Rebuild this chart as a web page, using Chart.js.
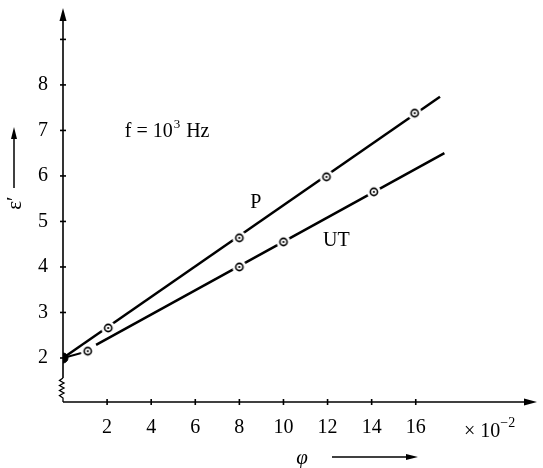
<!DOCTYPE html>
<html>
<head>
<meta charset="utf-8">
<script src="https://cdn.jsdelivr.net/npm/chart.js@4.4.0/dist/chart.umd.min.js"></script>
<style>
  html, body { margin: 0; padding: 0; background: #fff; }
  #wrap { width: 543px; height: 468px; }
</style>
</head>
<body>
<div id="wrap"><canvas id="myChart" width="543" height="468"></canvas></div>
<script>
// phi in units of 1e-2, epsilon'
const xTicks = [2, 4, 6, 8, 10, 12, 14, 16];
const yTicks = [2, 3, 4, 5, 6, 7, 8, 9];
const yTickLabels = ['2', '3', '4', '5', '6', '7', '8', ''];

const startX = [0];
const startY = [2];

const pX = [2.05, 8, 11.95, 15.95];
const pY = [2.66, 4.64, 5.98, 7.38];
const pLineX = [0, 17.1];
const pLineY = [2, 7.74];

const utX = [1.12, 8, 10, 14.1];
const utY = [2.15, 4.0, 4.55, 5.65];
const utLeadX = [0, 1.12];
const utLeadY = [2, 2.15];
const utLineX = [1.5, 17.3];
const utLineY = [2.29, 6.5];

const FONT = 'Liberation Serif, Times New Roman, serif';

function toPts(xs, ys){
  return xs.map((x, i) => ({x: x, y: ys[i]}));
}

function ringMarker(){
  const c = document.createElement('canvas');
  c.width = 16; c.height = 16;
  const g = c.getContext('2d');
  g.fillStyle = '#fff';
  g.beginPath(); g.arc(8, 8, 7, 0, Math.PI * 2); g.fill();
  g.strokeStyle = '#000'; g.lineWidth = 1.6;
  g.beginPath(); g.arc(8, 8, 3.6, 0, Math.PI * 2); g.stroke();
  g.fillStyle = '#000';
  g.beginPath(); g.arc(8, 8, 1.1, 0, Math.PI * 2); g.fill();
  return c;
}
const marker = ringMarker();

function arrowHead(ctx, x, y, dir, len, half){
  ctx.beginPath();
  if(dir === 'up'){
    ctx.moveTo(x, y); ctx.lineTo(x - half, y + len); ctx.lineTo(x + half, y + len);
  } else {
    ctx.moveTo(x, y); ctx.lineTo(x - len, y - half); ctx.lineTo(x - len, y + half);
  }
  ctx.closePath();
  ctx.fill();
}

function seg(ctx, x1, y1, x2, y2){
  ctx.beginPath(); ctx.moveTo(x1, y1); ctx.lineTo(x2, y2); ctx.stroke();
}

const axesPlugin = {
  id: 'axes',
  afterDraw(chart){
    const ctx = chart.ctx;
    const xs = chart.scales.x, ys = chart.scales.y;
    const a = chart.chartArea;
    ctx.save();
    ctx.strokeStyle = '#000'; ctx.fillStyle = '#000';
    ctx.lineWidth = 1.6;

    // x axis
    seg(ctx, a.left, a.bottom, a.right - 8, a.bottom);
    arrowHead(ctx, a.right, a.bottom, 'right', 13, 3.5);
    xTicks.forEach(v => {
      const px = xs.getPixelForValue(v);
      seg(ctx, px, a.bottom - 3, px, a.bottom + 3);
    });

    // y axis with break near the bottom
    const brTop = a.bottom - 24, brBot = a.bottom - 4;
    seg(ctx, a.left, a.top + 8, a.left, brTop);
    ctx.lineWidth = 1.3;
    ctx.beginPath();
    ctx.moveTo(a.left, brTop);
    const n = 8;
    for(let i = 1; i <= n; i++){
      const yy = brTop + (brBot - brTop) * i / n;
      const xx = (i === n) ? a.left : (i % 2 ? a.left - 3.5 : a.left + 1);
      ctx.lineTo(xx, yy);
    }
    ctx.lineTo(a.left, a.bottom);
    ctx.stroke();
    ctx.lineWidth = 1.6;
    arrowHead(ctx, a.left, a.top, 'up', 13, 3.5);
    yTicks.forEach(v => {
      const py = ys.getPixelForValue(v);
      seg(ctx, a.left - 3, py, a.left + 3, py);
    });

    // text
    ctx.fillStyle = '#000';
    ctx.textBaseline = 'alphabetic';
    ctx.font = '20px ' + FONT;
    ctx.textAlign = 'left';

    // f = 10^3 Hz
    let tx = xs.getPixelForValue(2.8), ty = ys.getPixelForValue(6.85);
    ctx.fillText('f = 10', tx, ty);
    tx += ctx.measureText('f = 10').width;
    ctx.font = '13px ' + FONT;
    ctx.fillText('3', tx + 1, ty - 9);
    tx += ctx.measureText('3').width + 2;
    ctx.font = '20px ' + FONT;
    ctx.fillText(' Hz', tx, ty);

    // series labels
    ctx.textAlign = 'center';
    ctx.fillText('P', xs.getPixelForValue(8.75), ys.getPixelForValue(5.3));
    ctx.fillText('UT', xs.getPixelForValue(12.4), ys.getPixelForValue(4.47));

    // x multiplier
    ctx.textAlign = 'left';
    let mx = 464, my = 437;
    ctx.fillText('\u00d7 10', mx, my);
    mx += ctx.measureText('\u00d7 10').width;
    ctx.font = '14px ' + FONT;
    ctx.fillText('\u2212' + '2', mx, my - 10);

    // phi axis title with arrow
    ctx.font = 'italic 21px ' + FONT;
    ctx.textAlign = 'center';
    ctx.fillText('\u03c6', 302, 464);
    ctx.lineWidth = 1.5;
    seg(ctx, 332, 457, 408, 457);
    arrowHead(ctx, 418, 457, 'right', 12, 3);

    // epsilon' axis title with arrow (rotated)
    ctx.save();
    ctx.translate(21, 203);
    ctx.rotate(-Math.PI / 2);
    ctx.font = '21px ' + FONT;
    ctx.textAlign = 'center';
    ctx.fillText('\u03b5\u2032', 0, 0);
    ctx.restore();
    seg(ctx, 14, 188, 14, 138);
    arrowHead(ctx, 14, 127, 'up', 12, 3);

    ctx.restore();
  }
};

const ctx = document.getElementById('myChart').getContext('2d');
const chart = new Chart(ctx, {
  type: 'scatter',
  data: {
    datasets: [{
      label: 'start',
      data: toPts(startX, startY),
      pointStyle: 'circle',
      pointRadius: 5,
      backgroundColor: '#000',
      borderColor: '#000'
    },{
      label: 'P',
      data: toPts(pX, pY),
      pointStyle: marker,
      showLine: false
    },{
      label: 'UT',
      data: toPts(utX, utY),
      pointStyle: marker,
      showLine: false
    },{
      label: 'P fit',
      data: toPts(pLineX, pLineY),
      showLine: true,
      pointRadius: 0,
      borderColor: '#000',
      borderWidth: 2.5
    },{
      label: 'UT lead',
      data: toPts(utLeadX, utLeadY),
      showLine: true,
      pointRadius: 0,
      borderColor: '#000',
      borderWidth: 2
    },{
      label: 'UT fit',
      data: toPts(utLineX, utLineY),
      showLine: true,
      pointRadius: 0,
      borderColor: '#000',
      borderWidth: 2.5
    }]
  },
  options: {
    responsive: false,
    animation: false,
    events: [],
    layout: { padding: { top: 8, right: 3, left: 0, bottom: 0 } },
    plugins: { legend: { display: false }, tooltip: { enabled: false } },
    scales: {
      x: {
        type: 'linear', min: 0, max: 21.5,
        afterBuildTicks: s => { s.ticks = xTicks.map(v => ({value: v})); },
        afterFit: s => { s.height = 66; s.paddingLeft = 0; s.paddingRight = 0; },
        grid: { display: false, drawTicks: false },
        border: { display: false },
        ticks: { color: '#000', font: { family: FONT, size: 20 }, padding: 14, maxRotation: 0, autoSkip: false }
      },
      y: {
        type: 'linear', min: 1.033, max: 9.69,
        afterBuildTicks: s => { s.ticks = yTicks.map(v => ({value: v})); },
        afterFit: s => { s.width = 63; s.paddingTop = 0; s.paddingBottom = 0; },
        grid: { display: false, drawTicks: false },
        border: { display: false },
        ticks: {
          color: '#000', font: { family: FONT, size: 20 }, padding: 15, autoSkip: false,
          callback: v => yTickLabels[yTicks.indexOf(v)]
        }
      }
    }
  },
  plugins: [axesPlugin]
});
</script>
</body>
</html>
